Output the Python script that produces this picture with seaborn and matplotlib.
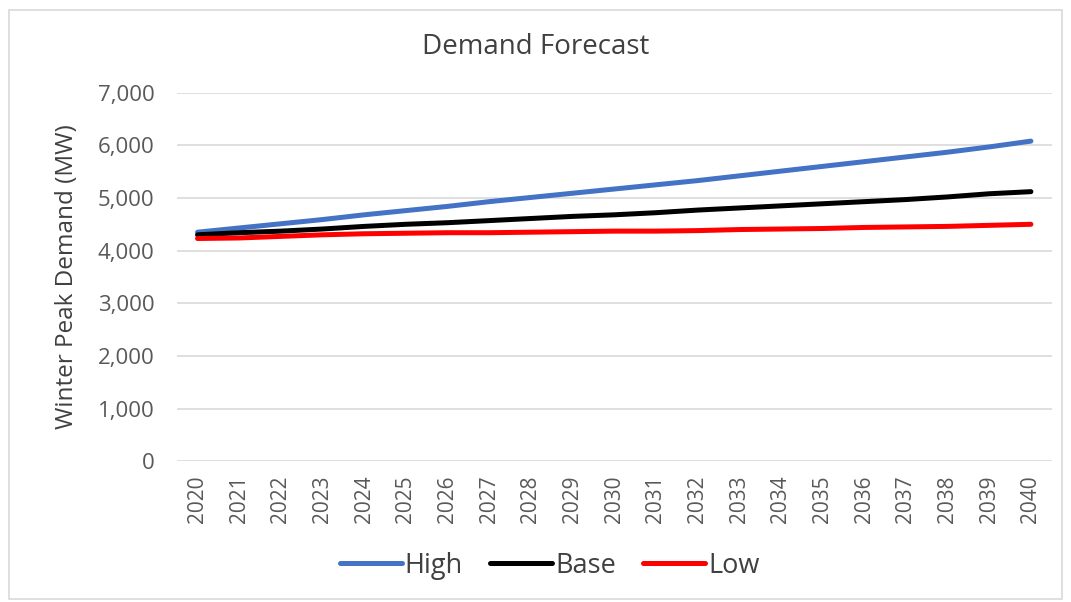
import pandas as pd
import matplotlib.pyplot as plt
import seaborn as sns

years = [str(y) for y in range(2020, 2041)]
high = [4350, 4430, 4510, 4590, 4680, 4760, 4840, 4930, 5010, 5090, 5170,
        5250, 5330, 5420, 5510, 5600, 5690, 5780, 5870, 5970, 6080]
base = [4300, 4340, 4370, 4410, 4460, 4500, 4530, 4570, 4610, 4650, 4680,
        4720, 4770, 4810, 4850, 4890, 4930, 4970, 5020, 5080, 5120]
low = [4230, 4240, 4270, 4300, 4320, 4330, 4340, 4340, 4350, 4360, 4370,
       4370, 4380, 4400, 4410, 4420, 4440, 4450, 4460, 4480, 4500]
series = ["High", "Base", "Low"]
colors = ["#4472C4", "#000000", "#FF0000"]

df = pd.DataFrame({"Year": years * 3,
                   "Demand": high + base + low,
                   "Scenario": [s for s in series for _ in years]})

sns.set_theme(style="white")
plt.rcParams["font.family"] = ["Open Sans", "DejaVu Sans"]

fig = plt.figure(figsize=(10.71, 6.02), dpi=100)
ax = fig.add_axes([0.165, 0.234, 0.817, 0.612])
sns.lineplot(data=df, x="Year", y="Demand", hue="Scenario", palette=colors,
             linewidth=3.6, ax=ax, sort=False)

ax.set_xlim(-0.5, 20.5)
ax.set_ylim(0, 7000)
ax.set_yticks(range(0, 7001, 1000))
ax.set_yticklabels([f"{v:,}" for v in range(0, 7001, 1000)])
ax.yaxis.grid(True, color="#D9D9D9", linewidth=1.2)
for s in ax.spines.values():
    s.set_visible(False)
ax.tick_params(axis="x", rotation=90, labelsize=15, colors="#595959", length=0, pad=10)
ax.tick_params(axis="y", labelsize=16, colors="#595959", length=0, pad=16)
ax.set_xlabel("")
ax.set_ylabel("Winter Peak Demand (MW)", fontsize=17.5, color="#404040")
ax.yaxis.set_label_coords(-0.112, 0.5)

fig.text(0.5, 0.922, "Demand Forecast", ha="center", va="center",
         fontsize=20, color="#404040")

ax.legend_.remove()
handles, labels = ax.get_legend_handles_labels()
fig.legend(handles, labels, loc="center", bbox_to_anchor=(0.513, 0.06), ncol=3,
           frameon=False, fontsize=19.5, handlelength=2.3, handletextpad=0.1,
           columnspacing=1.0, labelcolor="#404040")

fig.patches.append(plt.Rectangle((0.008, 0.005), 0.984, 0.978, transform=fig.transFigure,
                                 fill=False, edgecolor="#D9D9D9", linewidth=1.2))

fig.savefig("out.png", dpi=100)
